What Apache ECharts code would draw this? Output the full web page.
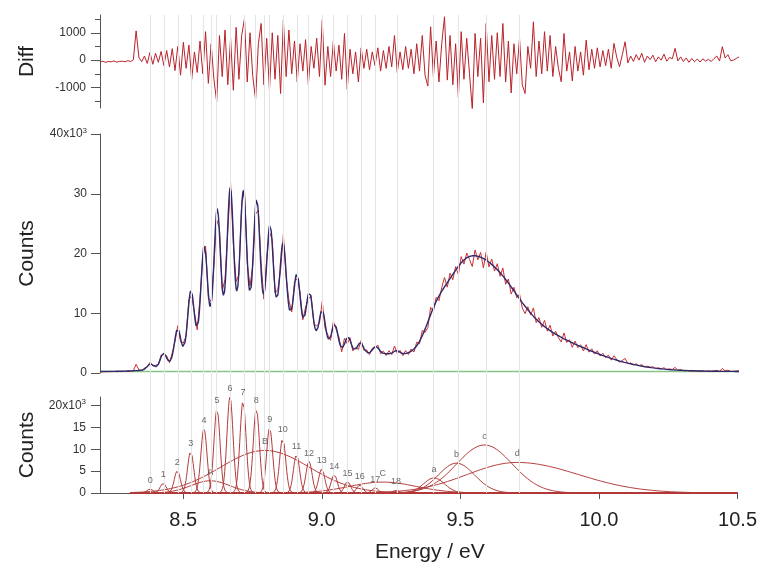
<!DOCTYPE html>
<html><head><meta charset="utf-8">
<script src="https://cdn.jsdelivr.net/npm/echarts@6/dist/echarts.min.js"></script>
<style>html,body{margin:0;padding:0;background:#fff}#c{width:760px;height:569px}</style>
</head><body><div id="c"></div>
<script>
// ---------- data ----------
const X_MIN = 8.2, X_MAX = 10.5;
const xTickValues = [8.5, 9.0, 9.5, 10.0, 10.5];

// vibrational progression 0..18 (fit components, bottom panel)
const vibLabels  = ['0','1','2','3','4','5','6','7','8','9','10','11','12','13','14','15','16','17','18'];
const vibCenters = [8.381, 8.428, 8.479, 8.527, 8.575, 8.622, 8.669, 8.716, 8.764, 8.812, 8.859, 8.909, 8.954, 9.000, 9.045, 9.093, 9.137, 9.193, 9.268];
const vibAmps    = [900, 2200, 5100, 9500, 14700, 19200, 22000, 21000, 19300, 14900, 12500, 8800, 7200, 5500, 4200, 2600, 1800, 1200, 600];
const vibWidth   = 0.011;

// broad bands A, B, C and a, b, c, d
const bandLabels  = ['A', 'B', 'C', 'a', 'b', 'c', 'd'];
const bandCenters = [8.598, 8.795, 9.22, 9.405, 9.486, 9.587, 9.705];
const bandAmps    = [2800, 9750, 2500, 3450, 6840, 11000, 7000];
const bandWidthL  = [0.07, 0.16, 0.12, 0.038, 0.065, 0.10, 0.18];
const bandWidthR  = [0.07, 0.16, 0.12, 0.038, 0.065, 0.10, 0.22];
const baseline = 250;

// residual (Diff), from 8.20 eV in 0.01 eV steps
const diffStart = 8.20, diffStep = 0.01;
const diffValues = [
 -70,-40,-80,-50,-60,-30,-70,-50,-40,-60,
 -20,-50,10,1070,100,-60,150,-120,280,-150,
 250,-80,320,-200,350,-250,420,-380,500,-550,
 650,-300,550,-700,300,-450,700,-500,1040,-850,
 600,-700,-1520,900,-600,1100,-900,800,-1100,1200,
 -700,900,1520,-800,1000,-600,-1440,600,1340,-900,
 800,-1100,1000,-700,900,-1220,1460,-600,1100,-500,
 700,-800,600,-400,750,-900,500,-300,800,-600,
 1460,-915,500,-600,700,-400,550,-700,975,-1070,
 400,-500,300,-800,450,-300,400,-350,300,-200,
 450,-400,350,-300,500,-250,900,-450,300,-350,
 500,-300,400,-500,600,-400,900,-550,-950,1220,
 -600,700,-800,600,1585,-730,900,-900,600,-1365,
 1040,-700,800,-500,-1800,975,-600,800,-1560,1340,
 -790,900,-700,1000,-600,1340,-800,700,-1200,600,
 -500,800,-900,-1220,500,-300,1400,-600,700,-500,
 1040,-400,900,-600,500,-300,-790,975,-400,300,
 -760,500,-400,300,-550,730,-350,400,-300,450,
 -250,350,-200,400,-300,610,100,-240,200,670,
 -100,150,-50,200,0,250,-80,150,20,180,
 -60,120,0,220,-40,100,50,430,-30,120,
 -50,80,-80,60,-60,40,-70,50,-40,30,
 -50,60,150,-30,490,80,200,-20,0,60,120
];

const diffMajorTicks = [-1000, 0, 1000];
const diffMinorTicks = [-1500, -500, 500, 1500];
const countsTicks = [0, 10000, 20000, 30000, 40000];
const compTicks = [0, 5000, 10000, 15000, 20000];

// ---------- build series ----------
function comp(x, c, a, sl, sr) { const s = x < c ? sl : sr; const d = x - c; return a * Math.exp(-d * d / (2 * s * s)); }
const components = [];
vibCenters.forEach((c, i) => components.push({ c, a: vibAmps[i], sl: vibWidth, sr: vibWidth, label: vibLabels[i] }));
bandCenters.forEach((c, i) => components.push({ c, a: bandAmps[i], sl: bandWidthL[i], sr: bandWidthR[i], label: bandLabels[i] }));
function fitAt(x) { let s = baseline; for (const k of components) s += comp(x, k.c, k.a, k.sl, k.sr); return s; }

const fineX = [];
for (let i = 0; i <= 1150; i++) fineX.push(+(X_MIN + i * 0.002).toFixed(3));
const fitData = fineX.map(x => [x, fitAt(x)]);
const diffData = diffValues.map((v, i) => [+(diffStart + i * diffStep).toFixed(2), v]);
const measData = diffData.map(([x, v]) => [x, fitAt(x) + v]);
const compX = fineX.filter(x => x >= 8.31);

const gridLineCenters = vibCenters.concat([bandCenters[0], bandCenters[1], bandCenters[3], bandCenters[4], bandCenters[5], bandCenters[6]]);

const FONT = 'Liberation Sans, Arial, sans-serif';
const axisCol = '#555';
const compColor = '#b33b3b';

const compSeries = components.map(k => ({
  type: 'line', xAxisIndex: 2, yAxisIndex: 3, showSymbol: false, silent: true, z: 3,
  data: compX.map(x => [x, comp(x, k.c, k.a, k.sl, k.sr)]),
  lineStyle: { color: compColor, width: 1 }
}));

const xBase = (gi, show) => ({
  type: 'value', gridIndex: gi, min: X_MIN, max: X_MAX, show: show,
  splitLine: { show: false }
});

const option = {
  animation: false,
  backgroundColor: '#fff',
  grid: [
    { left: 100, width: 639, top: 15, height: 93 },
    { left: 100, width: 639, top: 134, height: 239 },
    { left: 100, width: 639, top: 397, height: 96 },
    { left: 100, width: 639, top: 15, height: 478 }
  ],
  xAxis: [
    xBase(0, false),
    xBase(1, false),
    Object.assign(xBase(2, true), {
      axisLine: { show: true, lineStyle: { color: axisCol, width: 1 } },
      axisTick: { show: true, length: 6, customValues: xTickValues, lineStyle: { color: axisCol } },
      axisLabel: { customValues: xTickValues, formatter: v => v.toFixed(1), fontSize: 20, color: '#222', margin: 17, fontFamily: FONT },
      name: 'Energy / eV', nameLocation: 'middle', nameGap: 49,
      nameTextStyle: { fontSize: 21, color: '#222', fontFamily: FONT, padding: [0, 0, 0, 22] }
    }),
    xBase(3, false)
  ],
  yAxis: [
    { type: 'value', gridIndex: 0, position: 'left', min: -1750, max: 1650,
      splitLine: { show: false },
      axisLine: { show: true, lineStyle: { color: axisCol } },
      axisTick: { show: true, length: 9, customValues: diffMajorTicks, lineStyle: { color: axisCol } },
      axisLabel: { customValues: diffMajorTicks, formatter: v => String(v), fontSize: 12, color: '#333', margin: 14, fontFamily: FONT },
      name: 'Diff', nameLocation: 'middle', nameGap: 62,
      nameTextStyle: { fontSize: 21, color: '#222', fontFamily: FONT } },
    { type: 'value', gridIndex: 0, position: 'left', offset: 0, min: -1750, max: 1650,
      splitLine: { show: false },
      axisLine: { show: false },
      axisTick: { show: true, length: 5, customValues: diffMinorTicks, lineStyle: { color: axisCol } },
      axisLabel: { show: false } },
    { type: 'value', gridIndex: 1, position: 'left', min: 0, max: 40000, interval: 10000,
      splitLine: { show: false },
      axisLine: { show: true, lineStyle: { color: axisCol } },
      axisTick: { show: true, length: 9, lineStyle: { color: axisCol } },
      axisLabel: { fontSize: 12, color: '#333', margin: 13, fontFamily: FONT,
        formatter: v => v === 40000 ? '{n|40x10}{s|3}' : String(v / 1000),
        rich: { n: { fontSize: 12, color: '#333', fontFamily: FONT }, s: { fontSize: 8, color: '#333', fontFamily: FONT, verticalAlign: 'top', padding: [0, 0, 7, 0] } } },
      name: 'Counts', nameLocation: 'middle', nameGap: 62,
      nameTextStyle: { fontSize: 21, color: '#222', fontFamily: FONT } },
    { type: 'value', gridIndex: 2, position: 'left', min: 0, max: 22000,
      splitLine: { show: false },
      axisLine: { show: true, lineStyle: { color: axisCol } },
      axisTick: { show: true, length: 9, customValues: compTicks, lineStyle: { color: axisCol } },
      axisLabel: { customValues: compTicks, fontSize: 12, color: '#333', margin: 14, fontFamily: FONT,
        formatter: v => v === 20000 ? '{n|20x10}{s|3}' : String(v / 1000),
        rich: { n: { fontSize: 12, color: '#333', fontFamily: FONT }, s: { fontSize: 8, color: '#333', fontFamily: FONT, verticalAlign: 'top', padding: [0, 0, 7, 0] } } },
      name: 'Counts', nameLocation: 'middle', nameGap: 62,
      nameTextStyle: { fontSize: 21, color: '#222', fontFamily: FONT } },
    { type: 'value', gridIndex: 3, min: 0, max: 1, show: false, splitLine: { show: false } }
  ],
  series: [
    { type: 'line', xAxisIndex: 3, yAxisIndex: 4, data: [], silent: true, z: 0,
      markLine: { silent: true, symbol: ['none', 'none'], label: { show: false },
        lineStyle: { color: '#e4e4e4', width: 1, type: 'solid' },
        data: gridLineCenters.map(v => ({ xAxis: v })) } },
    { type: 'line', xAxisIndex: 0, yAxisIndex: 0, data: diffData, showSymbol: false, silent: true, z: 3,
      lineStyle: { color: '#b8232b', width: 1 } },
    { type: 'line', xAxisIndex: 1, yAxisIndex: 2, data: [[X_MIN, baseline], [X_MAX, baseline]], showSymbol: false, silent: true, z: 2,
      lineStyle: { color: '#86c386', width: 1.5 } },
    { type: 'line', xAxisIndex: 1, yAxisIndex: 2, data: measData, showSymbol: false, silent: true, z: 3,
      lineStyle: { color: '#cc3030', width: 1 } },
    { type: 'line', xAxisIndex: 1, yAxisIndex: 2, data: fitData, showSymbol: false, silent: true, z: 4,
      lineStyle: { color: '#2d2a6e', width: 1.4 } },
    ...compSeries,
    { type: 'scatter', xAxisIndex: 2, yAxisIndex: 3, symbolSize: 0, silent: true, z: 6,
      data: components.map(k => ({ name: k.label, value: [k.c, k.a] })),
      label: { show: true, position: 'top', distance: 4, formatter: '{b}', fontSize: 9, color: '#444', fontFamily: FONT } }
  ]
};
const chart = echarts.init(document.getElementById('c'));
chart.setOption(option);
</script>
</body></html>
